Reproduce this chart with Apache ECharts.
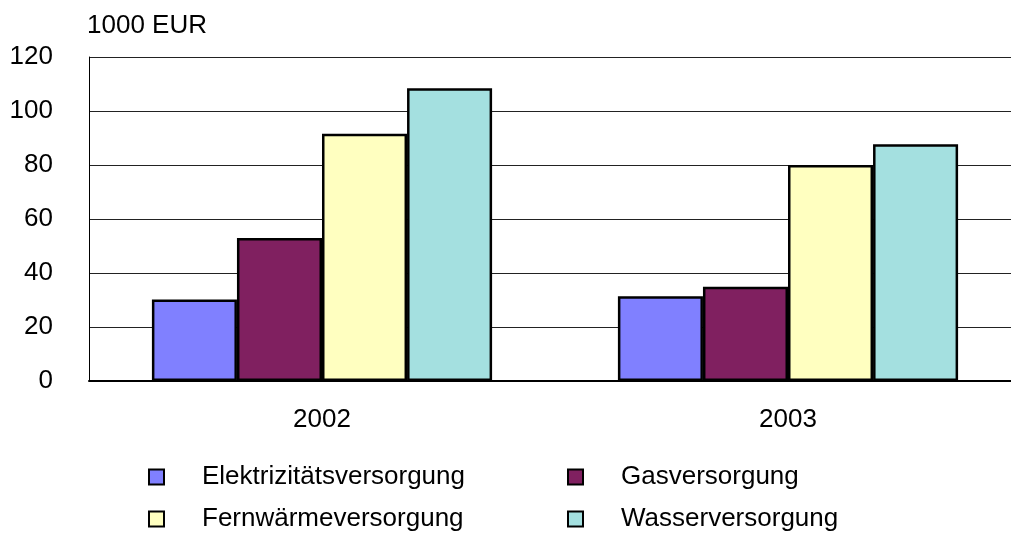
<!DOCTYPE html>
<html>
<head>
<meta charset="utf-8">
<script src="https://cdn.jsdelivr.net/npm/echarts@6/dist/echarts.min.js"></script>
<style>
  html, body { margin: 0; padding: 0; background: #fff; overflow: hidden; }
  /* Zeichenfläche breiter als das Fenster: rechter Rand des Plots liegt ausserhalb */
  #chart { width: 1040px; height: 534px; }
</style>
</head>
<body>
<div id="chart"></div>
<script>
// Daten
const years = ['2002', '2003'];
const yTicks = [0, 20, 40, 60, 80, 100, 120];
const seriesNames = ['Elektrizitätsversorgung', 'Gasversorgung', 'Fernwärmeversorgung', 'Wasserversorgung'];
const elektrizitaet = [30.2, 31.4];
const gas = [53.0, 34.9];
const fernwaerme = [91.6, 80.0];
const wasser = [108.4, 87.7];

const colors = ['#8080ff', '#802060', '#ffffc0', '#a4e0e0'];
const values = [elektrizitaet, gas, fernwaerme, wasser];
const font = 'Liberation Sans, Arial, sans-serif';
const fontSize = 26;

const chart = echarts.init(document.getElementById('chart'));

// Legende in zwei Spalten
function legendCol (left, names) {
  return {
    orient: 'vertical',
    left: left,
    top: 464,
    padding: 0,
    itemGap: 16,
    itemWidth: 15,
    itemHeight: 15,
    icon: 'rect',
    data: names,
    itemStyle: { borderColor: '#000', borderWidth: 2 },
    textStyle: {
      fontFamily: font,
      fontSize: fontSize,
      lineHeight: 26,
      color: '#000',
      padding: [0, 0, 0, 33]
    }
  };
}

chart.setOption({
  animation: false,
  color: colors,
  graphic: [{
    type: 'text',
    left: 87,
    top: 13,
    style: { text: '1000 EUR', fontFamily: font, fontSize: fontSize, fill: '#000' }
  }],
  legend: [
    legendCol(148, [seriesNames[0], seriesNames[2]]),
    legendCol(567, [seriesNames[1], seriesNames[3]])
  ],
  grid: { left: 89, top: 57, width: 932, height: 324, containLabel: false },
  xAxis: {
    type: 'category',
    data: years,
    axisTick: { show: false },
    axisLine: { lineStyle: { color: '#000', width: 2 } },
    axisLabel: { margin: 26, fontFamily: font, fontSize: fontSize, color: '#000' }
  },
  yAxis: {
    type: 'value',
    min: yTicks[0],
    max: yTicks[yTicks.length - 1],
    interval: 20,
    axisLine: { show: true, lineStyle: { color: '#000', width: 1 } },
    axisTick: { show: false },
    splitLine: { lineStyle: { color: '#222', width: 1 } },
    axisLabel: { margin: 36, fontFamily: font, fontSize: fontSize, color: '#000' }
  },
  series: seriesNames.map((name, i) => ({
    name: name,
    type: 'bar',
    data: values[i],
    barGap: '0%',
    barCategoryGap: '27%',
    itemStyle: { color: colors[i], borderColor: '#000', borderWidth: 2.5 }
  }))
});
</script>
</body>
</html>
